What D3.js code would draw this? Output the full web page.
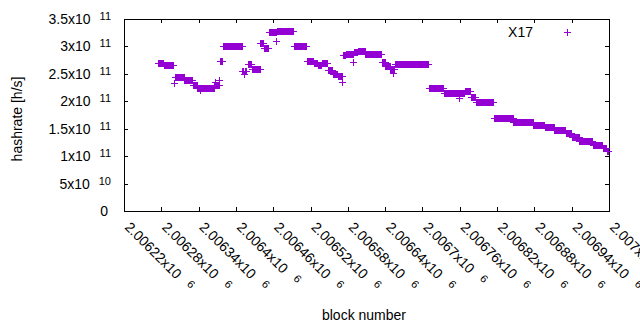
<!DOCTYPE html>
<html lang="en">
	<head>
		<meta charset="utf-8">
		<title>X17 hashrate</title>
		<script src="https://d3js.org/d3.v7.min.js"></script>
		<style type="text/css">
			body, html {
				margin: 0;
				background: #fff;
			}
			svg {
				display: block;
				font-family: "Liberation Sans", Arial, sans-serif;
			}
		</style>
	</head>
	<body>
		<svg width="640" height="330"></svg>
		<script type="text/javascript">
		//Runs of blocks where the hashrate estimate stays the same (start inclusive, end exclusive)
		var runStart = [2006275, 2006284, 2006302, 2006317, 2006331, 2006338, 2006350, 2006365, 2006374, 2006379,
			2006410, 2006419, 2006426, 2006439, 2006445, 2006453, 2006466, 2006477, 2006493, 2006514,
			2006525, 2006532, 2006538, 2006548, 2006556, 2006564, 2006572, 2006577, 2006590, 2006596,
			2006608, 2006635, 2006640, 2006648, 2006656, 2006710, 2006734, 2006768, 2006778, 2006786,
			2006815, 2006846, 2006878, 2006897, 2006912, 2006931, 2006940, 2006952, 2006974, 2006990, 2006996]
		var runEnd = [2006284, 2006300, 2006317, 2006331, 2006338, 2006350, 2006365, 2006374, 2006379, 2006410,
			2006417, 2006426, 2006439, 2006445, 2006452, 2006465, 2006476, 2006493, 2006514, 2006525,
			2006532, 2006538, 2006548, 2006556, 2006564, 2006571, 2006577, 2006589, 2006596, 2006608,
			2006635, 2006640, 2006648, 2006656, 2006710, 2006734, 2006768, 2006778, 2006786, 2006815,
			2006846, 2006878, 2006897, 2006912, 2006931, 2006940, 2006952, 2006974, 2006990, 2006996, 2007000]
		var runValue = [2.70e11, 2.67e11, 2.44e11, 2.38e11, 2.29e11, 2.25e11, 2.24e11, 2.30e11, 2.73e11, 3.00e11,
			2.56e11, 2.68e11, 2.59e11, 3.06e11, 2.97e11, 3.26e11, 3.28e11, 3.29e11, 3.00e11, 2.73e11,
			2.69e11, 2.66e11, 2.70e11, 2.57e11, 2.49e11, 2.47e11, 2.84e11, 2.86e11, 2.89e11, 2.92e11,
			2.87e11, 2.72e11, 2.64e11, 2.59e11, 2.68e11, 2.25e11, 2.15e11, 2.19e11, 2.07e11, 1.98e11,
			1.69e11, 1.62e11, 1.56e11, 1.53e11, 1.47e11, 1.43e11, 1.34e11, 1.27e11, 1.20e11, 1.14e11, 1.10e11]

		//single blocks that stick out of a run
		var spikeBlock = [2006300, 2006342, 2006367, 2006372, 2006413, 2006465, 2006571, 2006589, 2006652, 2006759]
		var spikeValue = [2.33e11, 2.20e11, 2.36e11, 2.38e11, 2.49e11, 3.09e11, 2.36e11, 2.71e11, 2.52e11, 2.06e11]

		var xTickValues = [2006220, 2006280, 2006340, 2006400, 2006460, 2006520, 2006580,
			2006640, 2006700, 2006760, 2006820, 2006880, 2006940, 2007000]
		var xTickLabels = ["2.00622x10^6", "2.00628x10^6", "2.00634x10^6", "2.0064x10^6", "2.00646x10^6",
			"2.00652x10^6", "2.00658x10^6", "2.00664x10^6", "2.0067x10^6", "2.00676x10^6",
			"2.00682x10^6", "2.00688x10^6", "2.00694x10^6", "2.007x10^6"]
		var yTickValues = [0, 5e10, 1e11, 1.5e11, 2e11, 2.5e11, 3e11, 3.5e11]
		var yTickLabels = ["0", "5x10^10", "1x10^11", "1.5x10^11", "2x10^11", "2.5x10^11", "3x10^11", "3.5x10^11"]

		var seriesName = "X17"
		var color = "#9400d3"

		var svg = d3.select("svg")
		var plotLeft = 124, plotRight = 609, plotTop = 19, plotBottom = 211

		var x = d3.scaleLinear().domain([2006220, 2007000]).range([plotLeft, plotRight])
		var y = d3.scaleLinear().domain([0, 3.5e11]).range([plotBottom, plotTop])

		//one point per block, spikes overwrite the run value
		var byBlock = {}
		runStart.forEach(function(s, i) {
			d3.range(s, runEnd[i]).forEach(function(b) { byBlock[b] = runValue[i] })
		})
		spikeBlock.forEach(function(b, i) { byBlock[b] = spikeValue[i] })
		var points = Object.keys(byBlock).map(function(k) {
			return {block: +k, value: byBlock[k]}
		})

		//ticks pointing inward on all four sides
		function ticks(g) {
			g.select(".domain").remove()
			g.selectAll("line").attr("stroke", "#000").attr("shape-rendering", "crispEdges")
		}
		svg.append("g").attr("transform", "translate(0," + plotBottom + ")")
			.call(d3.axisBottom(x).tickValues(xTickValues).tickSize(-4).tickFormat("")).call(ticks)
		svg.append("g").attr("transform", "translate(0," + plotTop + ")")
			.call(d3.axisTop(x).tickValues(xTickValues).tickSize(-4).tickFormat("")).call(ticks)
		svg.append("g").attr("transform", "translate(" + plotLeft + ",0)")
			.call(d3.axisLeft(y).tickValues(yTickValues).tickSize(-4).tickFormat("")).call(ticks)
		svg.append("g").attr("transform", "translate(" + plotRight + ",0)")
			.call(d3.axisRight(y).tickValues(yTickValues).tickSize(-4).tickFormat("")).call(ticks)

		svg.append("rect")
			.attr("x", plotLeft + 0.5).attr("y", plotTop + 0.5)
			.attr("width", plotRight - plotLeft).attr("height", plotBottom - plotTop)
			.attr("fill", "none").attr("stroke", "#000")
			.attr("shape-rendering", "crispEdges")

		//gnuplot style "mantissa x10^exp" labels
		function sciText(sel, label, gap) {
			var parts = label.split("^")
			sel.append("tspan").text(parts[0])
			if (parts[1]) {
				sel.append("tspan").attr("dx", gap).attr("dy", -4)
					.attr("font-size", 11).text(parts[1])
			}
		}

		var yLab = svg.append("g").attr("font-size", 14).attr("fill", "#000")
		yTickValues.forEach(function(v, i) {
			var t = yLab.append("text")
				.attr("x", yTickLabels[i].indexOf("^") < 0 ? 108 : 111)
				.attr("y", y(v) + 5)
				.attr("text-anchor", "end")
			sciText(t, yTickLabels[i], 9)
		})

		var xLab = svg.append("g").attr("font-size", 14).attr("fill", "#000")
		xTickValues.forEach(function(v, i) {
			var t = xLab.append("text")
				.attr("transform", "translate(" + x(v) + ",228) rotate(45)")
			sciText(t, xTickLabels[i], 11)
		})

		//axis titles
		svg.append("text")
			.attr("transform", "translate(22,119) rotate(-90)")
			.attr("text-anchor", "middle").attr("font-size", 14)
			.text("hashrate [h/s]")
		svg.append("text")
			.attr("x", 364).attr("y", 320)
			.attr("text-anchor", "middle").attr("font-size", 14)
			.text("block number")

		//points drawn as small plus signs
		function plus(cx, cy) {
			cx = Math.round(cx) + 0.5
			cy = Math.round(cy) + 0.5
			return "M" + (cx - 3.5) + "," + cy + "h7M" + cx + "," + (cy - 3.5) + "v7"
		}
		svg.append("g")
			.attr("stroke", color).attr("fill", "none")
			.attr("shape-rendering", "crispEdges")
			.selectAll("path")
			.data(points)
			.enter()
			.append("path")
			.attr("d", function(d) { return plus(x(d.block), y(d.value)) })

		//legend
		svg.append("text")
			.attr("x", 533).attr("y", 37)
			.attr("text-anchor", "end").attr("font-size", 14)
			.text(seriesName)
		svg.append("path")
			.attr("d", plus(567, 32))
			.attr("stroke", color).attr("fill", "none")
			.attr("shape-rendering", "crispEdges")
		</script>
	</body>
</html>
